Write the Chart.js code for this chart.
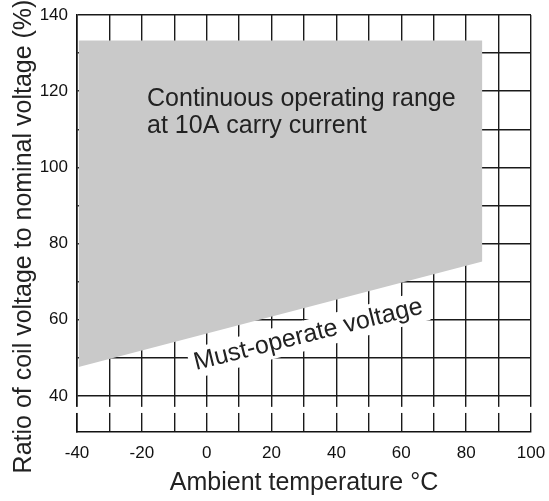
<!DOCTYPE html>
<html>
<head>
<meta charset="utf-8">
<title>Coil voltage operating range</title>
<script src="https://cdn.jsdelivr.net/npm/chart.js@4.4.0/dist/chart.umd.min.js"></script>
<style>
  html, body { margin: 0; padding: 0; background: #fff; }
</style>
</head>
<body>
<canvas id="rangeChart" width="549" height="501"></canvas>
<script>
// ambient temperature axis (°C)
const xGrid = [-40, -30, -20, -10, 0, 10, 20, 30, 40, 50, 60, 70, 80, 90, 100];
const xLabels = [-40, -20, 0, 20, 40, 60, 80, 100];

// ratio of coil voltage to nominal voltage (%)
const yGrid = [40, 50, 60, 70, 80, 90, 100, 110, 120, 130, 140];
const yLabels = [40, 60, 80, 100, 120, 140];

// operating range: temperature corners, upper limit and must-operate line
const rangeTemps = [-39.5, 85];
const upperLimit = [133.3, 133.3];
const mustOperate = [47.6, 75.3];

// gap drawn across the axis below 40 %
const axisBreak = [35.5, 37.1];

const FONT = '"Liberation Sans", Arial, Helvetica, sans-serif';
const INK = "#222";
const TEXT_SIZE = 25;

const rangeLabel = { lines: ["Continuous operating range", "at 10A carry current"], x: -18.4, y: 116.2 };
const lineLabel = { text: "Must-operate voltage", x: 31.85, y: 54.25, angle: -14 };

const toPoints = (ys) => rangeTemps.map((t, i) => ({ x: t, y: ys[i] }));

const annotations = {
  id: "annotations",
  beforeDatasetsDraw(chart) {
    const { ctx, chartArea, scales } = chart;
    const x = scales.x, y = scales.y;

    // axis break band
    const bTop = y.getPixelForValue(axisBreak[1]);
    const bBot = y.getPixelForValue(axisBreak[0]);
    ctx.save();
    ctx.fillStyle = "#fff";
    ctx.fillRect(chartArea.left - 3, bTop, chartArea.right - chartArea.left + 6, bBot - bTop);

    // white box behind the rotated label
    ctx.font = TEXT_SIZE + "px " + FONT;
    const w = ctx.measureText(lineLabel.text).width;
    ctx.translate(x.getPixelForValue(lineLabel.x), y.getPixelForValue(lineLabel.y));
    ctx.rotate((lineLabel.angle * Math.PI) / 180);
    ctx.fillRect(-w / 2 - 5, -22, w + 10, 30);
    ctx.restore();
  },
  afterDatasetsDraw(chart) {
    const { ctx, scales } = chart;
    const x = scales.x, y = scales.y;
    ctx.save();
    ctx.fillStyle = INK;
    ctx.font = TEXT_SIZE + "px " + FONT;
    ctx.textBaseline = "alphabetic";

    ctx.textAlign = "left";
    const lx = x.getPixelForValue(rangeLabel.x);
    const ly = y.getPixelForValue(rangeLabel.y);
    rangeLabel.lines.forEach((line, i) => ctx.fillText(line, lx, ly + i * 27));

    ctx.save();
    ctx.translate(x.getPixelForValue(lineLabel.x), y.getPixelForValue(lineLabel.y));
    ctx.rotate((lineLabel.angle * Math.PI) / 180);
    ctx.textAlign = "center";
    ctx.fillText(lineLabel.text, 0, 0);
    ctx.restore();

    ctx.restore();
  },
  afterDraw(chart) {
    // y axis title, sits a little below the middle of the plot
    const { ctx, chartArea } = chart;
    ctx.save();
    ctx.fillStyle = INK;
    ctx.font = TEXT_SIZE + "px " + FONT;
    ctx.textAlign = "center";
    ctx.textBaseline = "middle";
    ctx.translate(24, (chartArea.top + chartArea.bottom) / 2 + 13);
    ctx.rotate(-Math.PI / 2);
    ctx.fillText("Ratio of coil voltage to nominal voltage (%)", 0, 0);
    ctx.restore();
  },
};

const gridStyle = { color: "#1a1a1a", lineWidth: 1.4, drawTicks: false };
const borderStyle = { display: true, color: "#111", width: 1.6 };
const tickFont = { family: FONT, size: 17 };

new Chart(document.getElementById("rangeChart"), {
  type: "line",
  data: {
    datasets: [
      {
        label: "Continuous operating range",
        data: toPoints(upperLimit),
        fill: "+1",
        backgroundColor: "#c9c9c9",
        borderWidth: 0,
        pointRadius: 0,
      },
      {
        label: "Must-operate voltage",
        data: toPoints(mustOperate),
        fill: false,
        borderWidth: 0,
        pointRadius: 0,
      },
    ],
  },
  options: {
    responsive: false,
    animation: false,
    layout: { padding: { top: 15, right: 18, left: 0, bottom: 0 } },
    plugins: {
      legend: { display: false },
      tooltip: { enabled: false },
    },
    scales: {
      x: {
        type: "linear",
        min: -40,
        max: 100,
        afterBuildTicks: (scale) => {
          scale.ticks = xGrid.map((v) => ({ value: v }));
        },
        afterFit: (scale) => {
          scale.height = 69;
          scale.paddingLeft = 0;
          scale.paddingRight = 0;
        },
        ticks: {
          autoSkip: false,
          maxRotation: 0,
          padding: 11,
          color: "#111",
          font: tickFont,
          callback: (v) => (xLabels.includes(v) ? String(v) : ""),
        },
        grid: gridStyle,
        border: borderStyle,
        title: {
          display: true,
          text: "Ambient temperature °C",
          color: INK,
          font: { family: FONT, size: TEXT_SIZE },
          padding: { top: 0, bottom: 3 },
        },
      },
      y: {
        type: "linear",
        min: 30.5,
        max: 140,
        afterBuildTicks: (scale) => {
          scale.ticks = yGrid.map((v) => ({ value: v }));
        },
        afterFit: (scale) => {
          scale.width = 77;
          scale.paddingTop = 0;
          scale.paddingBottom = 0;
        },
        ticks: {
          autoSkip: false,
          padding: 9,
          color: "#111",
          font: tickFont,
          callback: (v) => (yLabels.includes(v) ? String(v) : ""),
        },
        grid: gridStyle,
        border: borderStyle,
      },
    },
  },
  plugins: [annotations],
});
</script>
</body>
</html>
